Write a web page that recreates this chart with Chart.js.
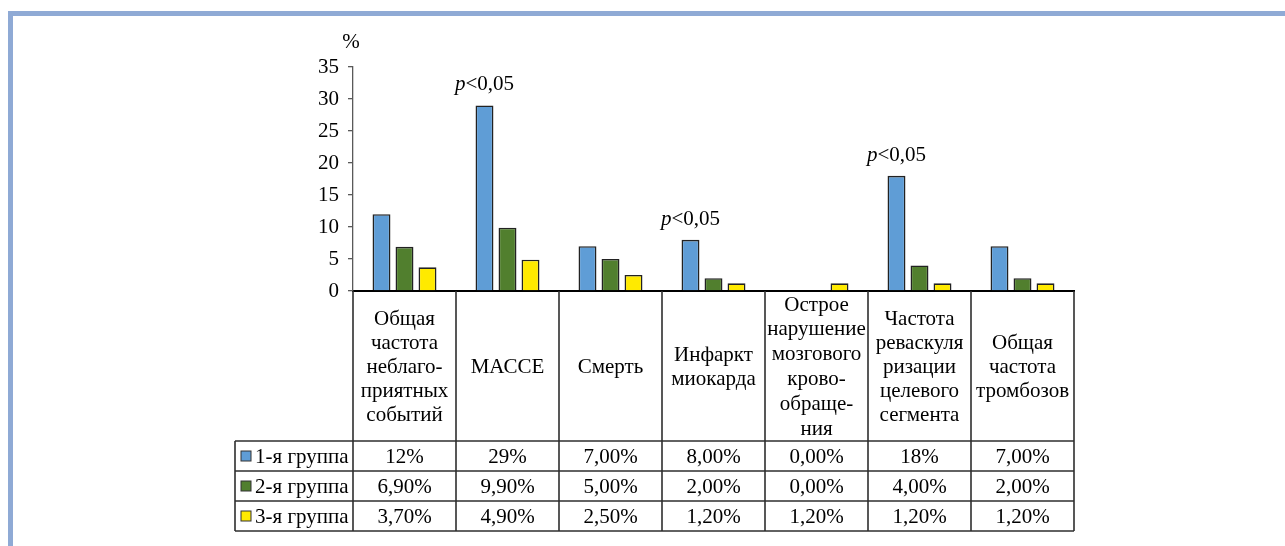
<!DOCTYPE html>
<html><head><meta charset="utf-8">
<script src="https://cdn.jsdelivr.net/npm/chart.js@4.4.1/dist/chart.umd.min.js"></script>
<style>
html,body{margin:0;padding:0;background:#fff;}
#wrap{position:relative;width:1285px;height:546px;overflow:hidden;background:#fff;}
#frame{position:absolute;left:8px;top:11px;right:0;bottom:0;border-top:5px solid #8faad5;border-left:5px solid #8faad5;}
canvas{position:absolute;left:0;top:0;}
</style></head><body>
<div id="wrap"><div id="frame"></div><canvas id="c" width="1285" height="546"></canvas></div>
<script>
const categories = [
  ["Общая","частота","неблаго-","приятных","событий"],
  ["МАССЕ"],
  ["Смерть"],
  ["Инфаркт","миокарда"],
  ["Острое","нарушение","мозгового","крово-","обраще-","ния"],
  ["Частота","реваскуля","ризации","целевого","сегмента"],
  ["Общая","частота","тромбозов"]
];
const seriesNames = ["1-я группа","2-я группа","3-я группа"];
const group1 = [12, 29, 7, 8, 0, 18, 7];
const group2 = [6.9, 9.9, 5, 2, 0, 4, 2];
const group3 = [3.7, 4.9, 2.5, 1.2, 1.2, 1.2, 1.2];
const tableGroup1 = ["12%","29%","7,00%","8,00%","0,00%","18%","7,00%"];
const tableGroup2 = ["6,90%","9,90%","5,00%","2,00%","0,00%","4,00%","2,00%"];
const tableGroup3 = ["3,70%","4,90%","2,50%","1,20%","1,20%","1,20%","1,20%"];
const significance = ["", "<0,05", "", "<0,05", "", "<0,05", ""];
const yMin = 0, yMax = 35, yStep = 5;
const yUnit = "%";

const colors = ["#5f9dd6", "#517f2e", "#ffea00"];
const FONT = '"Liberation Serif", "Times New Roman", serif';
const FS = 21;
const values = [group1, group2, group3];
const tableRows = [tableGroup1, tableGroup2, tableGroup3];

const tablePlugin = {
  id: 'dataTable',
  afterDatasetsDraw(chart) {
    const ctx = chart.ctx, ca = chart.chartArea, xs = chart.scales.x;
    const n = categories.length;
    const colW = (ca.right - ca.left) / n;
    const headerTop = ca.bottom, headerBottom = ca.bottom + 150, rowH = 30;
    const legendLeft = ca.left - 118;
    ctx.save();
    const meta0 = chart.getDatasetMeta(0);
    significance.forEach((s, i) => {
      if (!s) return;
      const el = meta0.data[i];
      ctx.font = 'italic ' + FS + 'px ' + FONT;
      const wp = ctx.measureText('p').width;
      ctx.font = FS + 'px ' + FONT;
      const wr = ctx.measureText(s).width;
      const x0 = el.x - (wp + wr) / 2;
      const y = el.y - 15;
      ctx.fillStyle = '#000';
      ctx.textAlign = 'left';
      ctx.textBaseline = 'alphabetic';
      ctx.font = 'italic ' + FS + 'px ' + FONT;
      ctx.fillText('p', x0, y);
      ctx.font = FS + 'px ' + FONT;
      ctx.fillText(s, x0 + wp, y);
    });
    ctx.font = FS + 'px ' + FONT;
    ctx.textAlign = 'center';
    ctx.textBaseline = 'middle';
    ctx.fillStyle = '#000';
    ctx.fillText(yUnit, ca.left - 2, ca.top - 25);

    ctx.strokeStyle = '#2e2e2e';
    ctx.lineWidth = 1.6;
    const tableBottom = headerBottom + rowH * 3;
    for (let k = 0; k <= n; k++) {
      const x = xs.getPixelForValue(0) - colW / 2 + k * colW;
      ctx.beginPath(); ctx.moveTo(x, headerTop); ctx.lineTo(x, tableBottom); ctx.stroke();
    }
    ctx.beginPath(); ctx.moveTo(legendLeft, headerBottom); ctx.lineTo(legendLeft, tableBottom); ctx.stroke();
    for (let r = 0; r <= 3; r++) {
      const y = headerBottom + r * rowH;
      ctx.beginPath(); ctx.moveTo(legendLeft, y); ctx.lineTo(ca.right, y); ctx.stroke();
    }
    ctx.fillStyle = '#000';
    ctx.textAlign = 'center';
    ctx.textBaseline = 'middle';
    ctx.font = FS + 'px ' + FONT;
    const mid = (headerTop + headerBottom) / 2;
    categories.forEach((lines, i) => {
      const x = xs.getPixelForValue(i);
      const lh = lines.length > 5 ? 24.8 : 24;
      lines.forEach((t, j) => {
        ctx.fillText(t, x, mid + (j - (lines.length - 1) / 2) * lh + 1);
      });
    });
    tableRows.forEach((row, r) => {
      const yc = headerBottom + r * rowH + rowH / 2 + 1;
      ctx.fillStyle = colors[r];
      ctx.fillRect(legendLeft + 6, yc - 6, 10, 10);
      ctx.strokeStyle = '#333'; ctx.lineWidth = 1;
      ctx.strokeRect(legendLeft + 6, yc - 6, 10, 10);
      ctx.fillStyle = '#000';
      ctx.textAlign = 'left';
      ctx.fillText(seriesNames[r], legendLeft + 20, yc);
      ctx.textAlign = 'center';
      row.forEach((t, i) => ctx.fillText(t, xs.getPixelForValue(i), yc));
    });
    ctx.restore();
  }
};

new Chart(document.getElementById('c'), {
  type: 'bar',
  data: {
    labels: categories,
    datasets: values.map((v, i) => ({
      label: seriesNames[i],
      data: v,
      backgroundColor: colors[i],
      borderColor: '#222',
      borderWidth: 1.6,
      categoryPercentage: 0.67,
      barPercentage: 0.78
    }))
  },
  options: {
    responsive: false,
    animation: false,
    devicePixelRatio: 1,
    layout: { padding: { left: 0, top: 67, right: 211, bottom: 255 } },
    plugins: { legend: { display: false }, tooltip: { enabled: false } },
    scales: {
      x: {
        ticks: { display: false },
        grid: { display: false, drawTicks: false },
        border: { display: true, color: '#000', width: 2 },
        afterFit(s) { s.height = 0; }
      },
      y: {
        min: yMin, max: yMax,
        ticks: { stepSize: yStep, color: '#000', font: { size: FS, family: FONT }, padding: 9 },
        grid: { display: true, drawOnChartArea: false, drawTicks: true, tickLength: 5, color: '#595959', lineWidth: 1.3 },
        border: { display: true, color: '#595959', width: 1.3 },
        afterFit(s) { s.width = 353; }
      }
    }
  },
  plugins: [tablePlugin]
});
</script>
</body></html>
